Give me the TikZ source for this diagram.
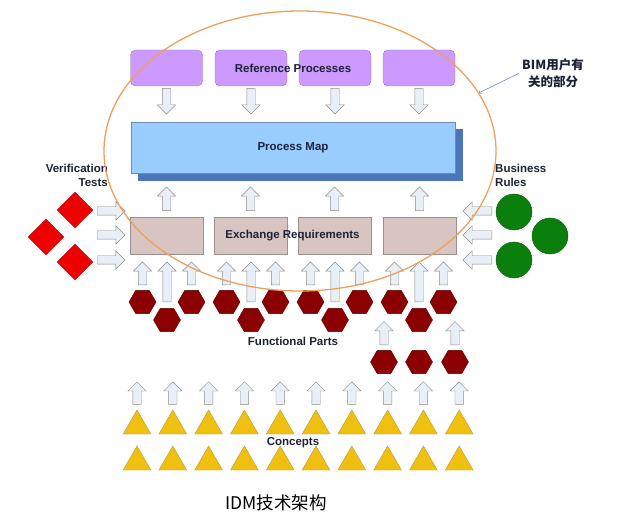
\documentclass[tikz,border=0pt]{standalone}
\usepackage{fontspec}
\setmainfont{Liberation Sans}
\newfontfamily\cjk{Noto Sans CJK SC}
\usetikzlibrary{calc,positioning}
\usetikzlibrary{shapes.geometric,shapes.arrows,shadows}

\definecolor{lbltext}{HTML}{1E2235}
\definecolor{procfill}{HTML}{CC99FF}
\definecolor{procline}{HTML}{9A7BC0}
\definecolor{mapfill}{HTML}{99CCFF}
\definecolor{mapline}{HTML}{6A8CB8}
\definecolor{mapshade}{HTML}{4B74B9}
\definecolor{exfill}{HTML}{D8C5C2}
\definecolor{exline}{HTML}{9A9090}
\definecolor{testred}{HTML}{EC0000}
\definecolor{rulegreen}{HTML}{0B7F0B}
\definecolor{partred}{HTML}{8B0000}
\definecolor{conceptfill}{HTML}{F0C010}
\definecolor{conceptline}{HTML}{B89A30}
\definecolor{arrfill}{HTML}{E9EFF7}
\definecolor{arrline}{HTML}{8C8C8C}
\definecolor{scopeline}{HTML}{F0A05A}
\definecolor{notearrow}{HTML}{7090C0}

\tikzstyle{lbl}=[font=\fontsize{11.5}{14}\selectfont\bfseries, text=lbltext, inner sep=0, align=center]
\tikzstyle{refproc} = [draw=procline, fill=procfill, minimum width=72pt, minimum height=36pt, rounded corners=5pt]
\tikzstyle{exreq} = [draw=exline, fill=exfill, minimum width=73pt, minimum height=37pt]
\tikzstyle{procmap} = [draw=mapline, fill=mapfill, minimum width=324pt, minimum height=51pt, copy shadow={shadow xshift=7pt, shadow yshift=-7pt, draw=mapshade, fill=mapshade}]
\tikzstyle{vtest} = [diamond, aspect=1, fill=testred, draw=testred!80!black, minimum size=36pt, inner sep=0]
\tikzstyle{bizrule} = [circle, fill=rulegreen, draw=rulegreen!70!black, minimum size=36pt, inner sep=0]
\tikzstyle{fpart} = [regular polygon, regular polygon sides=6, fill=partred, draw=partred!70!black, minimum size=27pt, inner sep=0]
\tikzstyle{concept} = [regular polygon, regular polygon sides=3, fill=conceptfill, draw=conceptline, minimum size=32pt, inner sep=0]
\tikzstyle{blk} = [single arrow, draw=arrline, fill=arrfill, inner xsep=0pt, inner ysep=4pt, single arrow head extend=5pt, single arrow tip angle=90, anchor=tail]

% hollow block arrow between two points, with gaps at both ends
\newcommand{\blockarrow}[4]{%
  \path let \p1=($(#1)!#3!(#2)$), \p2=($(#2)!#4!(#1)$), \p3=($(\p2)-(\p1)$),
    \n1={veclen(\x3,\y3)}, \n2={atan2(\y3,\x3)} in
    node [blk, minimum height=\n1, rotate=\n2] at (\p1) {};}

\begin{document}
\begin{tikzpicture}[x=1pt, y=-1pt]
\useasboundingbox [fill=white] (0,0) rectangle (623,518);

% reference processes and process map
\node (pm) [procmap, lbl] at (293,147.5) {Process Map};
\foreach \i/\cx in {1/166.5,2/251,3/335,4/419}
  \node (rp\i) [refproc] at (\cx,68) {};
\node (rptext) [lbl] at ($(rp2)!0.5!(rp3)$) {Reference Processes};

% exchange requirements
\foreach \i/\cx in {1/166.5,2/250.5,3/334.5,4/419.5}
  \node (er\i) [exreq] at (\cx,235.5) {};
\node (ertext) [lbl] at ($(er2)!0.5!(er3)$) {Exchange Requirements};

\foreach \i in {1,...,4} {
  \blockarrow{rp\i.south}{rp\i.south |- pm.north}{2pt}{8pt}
  \blockarrow{er\i.north}{er\i.north |- pm.south}{6pt}{14pt}
}

% verification tests
\node (vt) [lbl, align=right, anchor=east] at (108,175) {Verification\\Tests};
\node (vt1) [vtest] at (75,210) {};
\node (vt2) [vtest] at (46,237) {};
\node (vt3) [vtest] at (75,262) {};
\foreach \k/\y in {1/211,2/235,3/260} {
  \coordinate (vin\k) at (97,\y);
  \blockarrow{vin\k}{vin\k -| er1.west}{0pt}{5pt}
}

% business rules
\node (br) [lbl, align=left, anchor=west] at (495,175) {Business\\Rules};
\node (br1) [bizrule] at (514,212) {};
\node (br2) [bizrule] at (550,236) {};
\node (br3) [bizrule] at (514,260) {};
\foreach \k/\y in {1/211,2/235,3/260} {
  \coordinate (rin\k) at (492,\y);
  \blockarrow{rin\k}{rin\k -| er4.east}{0pt}{7pt}
}

% functional parts
\foreach \g/\cx in {1/167,2/251,3/335,4/419} {
  \node (fp\g1) [fpart] at (\cx-24.5,302) {};
  \node (fp\g2) [fpart] at (\cx,320) {};
  \node (fp\g3) [fpart] at (\cx+24.5,302) {};
  \blockarrow{fp\g1.north}{fp\g1.north |- er\g.south}{5pt}{8pt}
  \blockarrow{fp\g2.north}{fp\g2.north |- er\g.south}{6pt}{8pt}
  \blockarrow{fp\g3.north}{fp\g3.north |- er\g.south}{5pt}{8pt}
}
\foreach \k/\cx in {1/384,2/419,3/455}
  \node (fpl\k) [fpart] at (\cx,362) {};
\blockarrow{fpl1.north}{fpl1.north |- fp41.south}{5pt}{8pt}
\blockarrow{fpl3.north}{fpl3.north |- fp43.south}{5pt}{8pt}
\node (fptext) [lbl] at (293,341) {Functional Parts};

% concepts
\foreach \j in {0,...,9} {
  \node (ca\j) [concept] at (137+35.8*\j,426) {};
  \node (cb\j) [concept] at (137+35.8*\j,462) {};
  \coordinate (cup\j) at (137+35.8*\j,382);
  \blockarrow{ca\j.north}{cup\j}{5pt}{0pt}
}
\node (ctext) [lbl] at (293,443) {Concepts};

% BIM user scope
\node (bimpart) [ellipse, draw=scopeline, line width=1.3pt, minimum width=392pt, minimum height=280pt] at (300,151) {};
\node (bimnote) [font=\cjk\fontsize{12.5}{17}\selectfont\bfseries, text=lbltext, align=center] at (553,73.5) {BIM用户有\\关的部分};
\draw [->, draw=notearrow, line width=0.6pt] (bimnote.west) -- (bimpart.18);

\node (idm) [font=\cjk\fontsize{17.5}{20}\selectfont, text=black] at (276,503) {IDM技术架构};
\end{tikzpicture}
\end{document}
